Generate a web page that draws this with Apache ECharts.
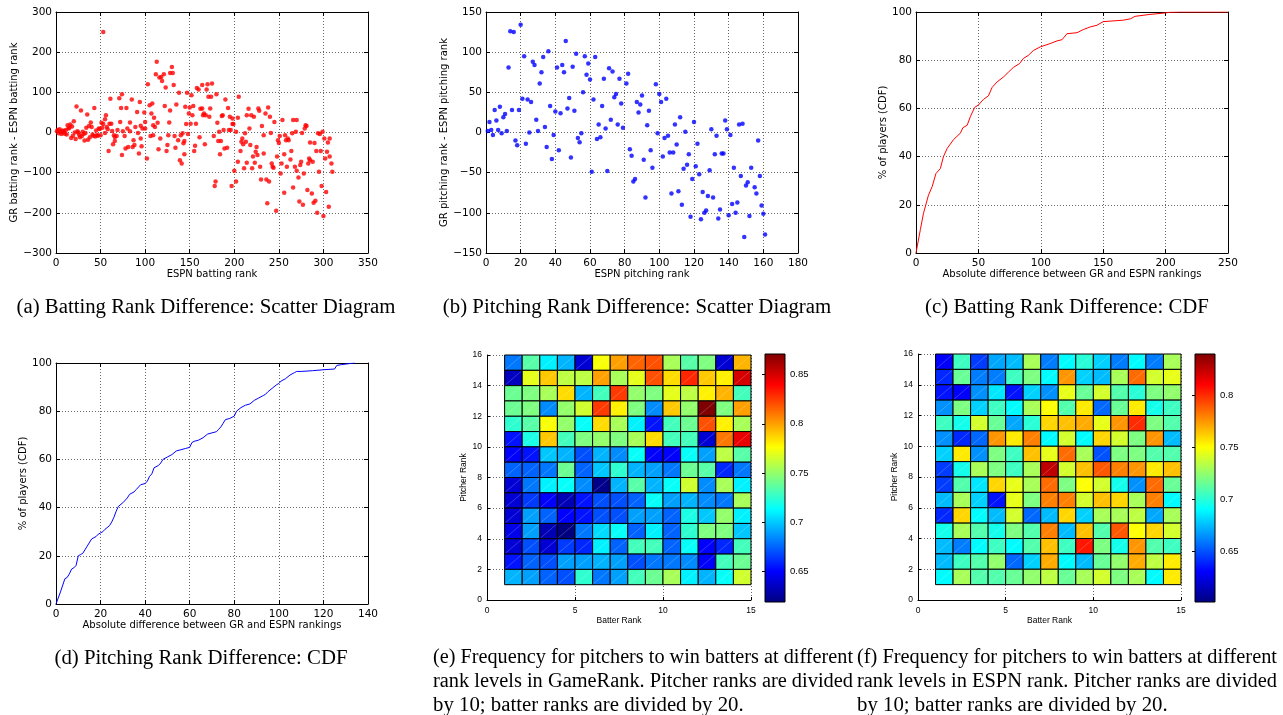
<!DOCTYPE html>
<html>
<head>
<meta charset="utf-8">
<script src="https://cdn.jsdelivr.net/npm/echarts@6/dist/echarts.min.js"></script>
<style>
html, body { margin: 0; padding: 0; background: #fff; }
#chart { width: 1283px; height: 715px; }
</style>
</head>
<body>
<div id="chart"></div>
<script>
// (a) ESPN batting rank vs. (GR rank - ESPN rank)
const battingDiff = [
    [1,3],[2,6],[3,-2],[4,8],[5,2],[6,-4],[7,5],[8,0],[9,4],[10,-3],[11,6],[12,-5],[13,18],[14,10],[15,12],
    [16,20],[17,-14],[18,15],[19,-8],[20,28],[21,0],[22,-16],[23,65],[24,3],[25,0],[26,-6],[27,-12],[28,55],
    [29,-9],[30,2],[31,-4],[32,-20],[33,-1],[34,12],[35,45],[36,-18],[37,16],[38,-12],[39,25],[40,14],[41,-5],
    [42,-8],[43,61],[44,-10],[45,5],[46,-6],[47,-8],[48,10],[49,9],[50,-7],
    [53,250],[51,24],[52,12],[53,21],[55,33],[55,-1],[56,43],[57,14],[58,8],[59,-46],[60,22],[61,84],[62,22],
    [63,4],[64,-29],[65,-7],[66,-21],[66,-11],[68,-9],[69,6],[71,85],[72,26],[73,61],[74,95],[74,-56],[75,3],
    [77,-9],[78,-40],[79,61],[80,10],[81,-36],[83,3],[83,25],[85,82],[86,-36],[87,-19],[88,-31],[89,14],[91,51],
    [92,-1],[93,-52],[94,76],[95,-15],[95,17],[96,-34],[97,10],[99,50],[100,10],
    [100,26],[102,-65],[103,120],[105,68],[106,-9],[107,47],[108,72],[109,-7],[109,18],[110,37],[111,14],[112,145],
    [113,176],[114,24],[115,-42],[116,137],[117,-15],[118,138],[119,128],[121,145],[122,66],[123,112],[124,-46],
    [125,-31],[126,-7],[127,25],[128,55],[128,148],[130,163],[131,148],[132,118],[133,-9],[134,-38],[135,70],
    [137,-19],[138,99],[139,-69],[140,-7],[141,-77],[142,-2],[143,-27],[144,-21],[144,-54],[145,64],[146,21],
    [147,99],[148,-4],[149,47],[150,62],
    [151,22],[152,93],[153,43],[154,66],[155,-46],[156,-33],[157,22],[158,111],[160,107],[161,-12],[162,59],
    [164,118],[164,60],[165,43],[166,47],[167,-29],[168,43],[169,107],[170,120],[171,89],[172,39],[173,60],
    [174,89],[175,122],[177,-9],[178,-133],[179,-122],[180,95],[181,24],[182,-21],[183,2],[184,-54],[185,-21],
    [186,41],[187,43],[188,6],[189,-40],[190,82],[192,-38],[193,61],[194,6],[195,39],[196,6],[197,-133],
    [198,21],[198,35],[199,21],
    [200,-95],[202,-122],[202,2],[204,-73],[204,37],[205,89],[207,-46],[208,-23],[209,-15],[210,-29],[211,-89],
    [212,-2],[213,-23],[214,43],[214,-75],[216,59],[217,10],[218,-31],[219,43],[220,-89],[221,-60],[222,39],
    [223,-75],[224,-48],[225,-36],[226,-56],[227,60],[228,54],[229,-85],[230,-117],[231,16],[233,-7],[233,-52],
    [235,47],[236,-117],[237,-176],[238,62],[239,-122],[240,39],[241,-1],[242,-77],[243,-85],[244,-88],[245,26],
    [247,-195],[248,-60],[249,-19],[250,-26],
    [251,-9],[252,-102],[253,-77],[254,31],[256,-54],[256,-150],[257,-7],[258,-19],[259,-85],[260,-15],[261,-19],
    [263,-67],[264,-46],[265,-2],[266,31],[266,-137],[268,-85],[269,2],[270,-95],[270,31],[272,-112],[273,-172],
    [274,-81],[275,-73],[276,-1],[277,-180],[278,-102],[279,10],[280,18],[281,16],[282,-143],[283,-77],[284,-65],
    [285,-25],[285,-69],[287,-152],[288,-73],[289,-175],[290,-26],[291,-170],[292,-46],[293,-200],[294,-2],
    [295,-98],[296,-4],[297,-46],[298,-133],[299,2],[300,-208],[301,-15],[302,-65],[303,-148],[304,-48],
    [305,-25],[306,-185],[307,-15],[307,-60],[309,-77],[310,-98]
];

// (b) ESPN pitching rank vs. (GR rank - ESPN rank)
const pitchingDiff = [
    [1,2],[2,13],[3,3],[4,-3],[5,28],[6,15],[7,3],[8,32],[9,-1],[10,19],[11,23],[12,2],[13,81],[14,126],[15,28],
    [16,125],[17,-10],[18,-16],[19,28],[20,134],[21,42],[22,95],[23,-14],[24,41],[25,0],[26,38],[27,88],[28,84],
    [29,16],[30,2],[31,61],[32,75],[33,94],[34,7],[35,-18],[36,101],[37,33],[38,-33],[39,-3],[40,26],[41,81],
    [42,-22],[43,24],[44,84],[45,75],[46,114],[47,30],[48,43],[49,-31],[50,82],[51,27],[52,98],[53,-7],[54,-12],
    [55,-1],[56,50],[57,95],[58,72],[59,86],[60,66],[61,-49],[62,41],[63,94],[64,-8],[65,10],[66,-6],[67,33],
    [68,67],[69,5],[70,-48],[71,80],[72,16],[73,76],[74,44],[75,48],[76,10],[77,67],[78,36],[79,6],[81,61],
    [82,73],[83,-21],[84,-29],[85,-61],[86,-58],[87,38],[88,25],[89,35],[90,46],[91,-34],[92,-81],[93,9],
    [94,27],[95,-22],[96,-44],[98,60],[99,-1],[100,48],[101,38],[102,-30],[103,-7],[104,42],[105,-4],[106,-25],
    [107,-76],[108,-25],[109,10],[110,-15],[111,-73],[112,19],[113,-90],[114,-45],[115,1],[116,-40],[117,-27],
    [118,-105],[119,-58],[120,13],[121,-42],[122,-14],[123,-52],[124,-108],[125,-74],[126,-100],[127,-97],
    [128,-79],[129,-47],[130,4],[131,-81],[132,-27],[133,-4],[134,-107],[135,-96],[136,-26],[137,-26],[138,15],
    [139,4],[140,-103],[141,-3],[142,-89],[143,-44],[144,-100],[145,-87],[146,10],[147,-54],[148,11],[149,-130],
    [150,-66],[151,-62],[152,-104],[153,-44],[155,-68],[156,-76],[157,-10],[158,-54],[159,-91],[160,-101],[161,-127]
];

// (c) CDF of |GR - ESPN| for batters
const battingCdf = [
    [0,0],[0.5,1.4],[3.5,9.7],[6,16.5],[10,24],[13,27.6],[16,33],[19.5,35],[22,40],[25,43.4],[30,47],[35.5,49.7],
    [37.6,52],[41,53],[43.5,56.5],[47,60.4],[50,61.4],[54,63.7],[58,65.2],[61,68.7],[65,71],[70,73],[74,75],
    [78,77],[83,78.6],[86,80.7],[90,82],[94,84],[99.5,85.5],[107.5,86.9],[113,88],[117,88.5],[121,91],[129,91.4],
    [134,92.7],[139.5,93.8],[145,94.5],[150,96],[166,96.6],[172,97.2],[175.5,98.2],[187.5,99],[199.5,99.6],
    [203.5,99.9],[211,100],[250,100]
];

// (d) CDF of |GR - ESPN| for pitchers
const pitchingCdf = [
    [0,0],[2,5],[4,10.5],[5,11],[6,12.5],[7,14.5],[8,15],[9,16],[10,20],[11,20.5],[12,21],[14,24],[16,27],
    [17,27.5],[18,28],[19,29],[20,29.5],[21,30],[22,31],[24,32.5],[25,34],[26,36],[27,38.5],[28,40.5],[30,42],
    [32,44],[33,45.5],[35,46.5],[36,47.5],[38,49.5],[40,50],[41,51],[42,53],[43,54],[44,56.5],[46,57.5],
    [47,58.5],[48,60],[50,61],[52,62],[54,63.5],[56,64],[58,64.5],[60,65],[61,67],[62,67.5],[64,68],[66,69],
    [68,70.5],[70,71],[72,71.5],[73,72.5],[74,73.5],[75,75],[76,76.5],[78,77],[80,78],[81,80],[83,81.5],
    [85,82.5],[87,83],[89,84.5],[91,85.5],[93,86.5],[94,87],[95,88],[97,89.5],[99,91],[100,91.5],[101,92.5],
    [103,93.5],[105,95],[107,96],[108,96.5],[110,96.5],[115,96.8],[120,97.2],[125,97.5],[126,99],[128,99.3],
    [132,99.8],[134,100]
];

// (e) win frequency, GameRank levels; rows = pitcher rank 15 (top) .. 1 (bottom), cols = batter rank 1..14
const gameRankRows = [
    [0.68,0.735,0.71,0.695,0.64,0.775,0.80,0.815,0.82,0.755,0.735,0.745,0.64,0.795],
    [0.635,0.77,0.79,0.76,0.76,0.80,0.755,0.77,0.82,0.785,0.83,0.79,0.78,0.85],
    [0.74,0.745,0.755,0.785,0.695,0.73,0.825,0.75,0.745,0.77,0.76,0.78,0.795,0.73],
    [0.74,0.745,0.685,0.75,0.765,0.825,0.78,0.745,0.685,0.79,0.75,0.871,0.745,0.80],
    [0.725,0.735,0.775,0.75,0.715,0.785,0.755,0.71,0.655,0.73,0.74,0.82,0.78,0.755],
    [0.655,0.72,0.79,0.73,0.745,0.75,0.745,0.755,0.785,0.73,0.73,0.64,0.81,0.845],
    [0.65,0.655,0.70,0.695,0.67,0.695,0.685,0.715,0.65,0.65,0.715,0.69,0.76,0.735],
    [0.675,0.675,0.68,0.74,0.675,0.70,0.725,0.695,0.69,0.68,0.74,0.735,0.66,0.68],
    [0.64,0.68,0.71,0.715,0.685,0.622,0.695,0.735,0.695,0.715,0.765,0.685,0.755,0.71],
    [0.64,0.665,0.65,0.632,0.655,0.67,0.67,0.675,0.715,0.69,0.695,0.685,0.68,0.755],
    [0.64,0.69,0.675,0.65,0.655,0.67,0.67,0.69,0.69,0.675,0.72,0.70,0.75,0.71],
    [0.645,0.69,0.632,0.619,0.68,0.705,0.715,0.675,0.71,0.675,0.725,0.745,0.745,0.70],
    [0.64,0.67,0.64,0.665,0.66,0.71,0.675,0.73,0.73,0.675,0.715,0.65,0.66,0.73],
    [0.655,0.675,0.67,0.69,0.69,0.695,0.69,0.67,0.68,0.68,0.685,0.65,0.73,0.74],
    [0.695,0.69,0.675,0.67,0.725,0.68,0.69,0.73,0.74,0.755,0.71,0.695,0.715,0.765]
];
const gameRankRange = [0.619, 0.871];
const gameRankTicks = [0.65, 0.7, 0.75, 0.8, 0.85];

// (f) win frequency, ESPN levels
const espnRows = [
    [0.63,0.705,0.645,0.67,0.675,0.73,0.66,0.69,0.70,0.68,0.66,0.69,0.66,0.73],
    [0.64,0.715,0.66,0.66,0.705,0.72,0.69,0.775,0.68,0.675,0.73,0.785,0.74,0.745],
    [0.635,0.63,0.665,0.685,0.635,0.68,0.665,0.745,0.715,0.74,0.71,0.70,0.72,0.725],
    [0.665,0.72,0.68,0.705,0.69,0.73,0.75,0.71,0.755,0.655,0.715,0.755,0.695,0.705],
    [0.705,0.695,0.74,0.715,0.67,0.70,0.76,0.765,0.77,0.745,0.775,0.80,0.72,0.71],
    [0.665,0.64,0.655,0.775,0.755,0.78,0.69,0.74,0.69,0.76,0.74,0.72,0.775,0.675],
    [0.68,0.755,0.665,0.72,0.705,0.765,0.745,0.785,0.73,0.65,0.72,0.72,0.71,0.71],
    [0.645,0.695,0.73,0.72,0.705,0.73,0.825,0.74,0.765,0.79,0.78,0.775,0.755,0.765],
    [0.645,0.71,0.685,0.76,0.745,0.73,0.785,0.72,0.75,0.74,0.695,0.665,0.785,0.715],
    [0.675,0.73,0.68,0.635,0.745,0.72,0.78,0.78,0.74,0.765,0.76,0.73,0.78,0.69],
    [0.64,0.76,0.69,0.675,0.74,0.655,0.675,0.76,0.68,0.73,0.73,0.735,0.67,0.73],
    [0.695,0.73,0.71,0.695,0.72,0.71,0.78,0.675,0.765,0.71,0.79,0.75,0.76,0.74],
    [0.675,0.66,0.69,0.705,0.69,0.71,0.765,0.705,0.805,0.72,0.695,0.775,0.71,0.705],
    [0.675,0.705,0.71,0.725,0.655,0.68,0.77,0.69,0.675,0.715,0.725,0.77,0.735,0.755],
    [0.69,0.73,0.71,0.71,0.715,0.725,0.735,0.715,0.73,0.74,0.72,0.73,0.69,0.755]
];
const espnRange = [0.601, 0.84];
const espnTicks = [0.65, 0.7, 0.75, 0.8];

const captions = [
    '(a) Batting Rank Difference: Scatter Diagram',
    '(b) Pitching Rank Difference: Scatter Diagram',
    '(c) Batting Rank Difference: CDF',
    '(d) Pitching Rank Difference: CDF',
    '(e) Frequency for pitchers to win batters at different\nrank levels in GameRank. Pitcher ranks are divided\nby 10; batter ranks are divided by 20.',
    '(f) Frequency for pitchers to win batters at different\nrank levels in ESPN rank. Pitcher ranks are divided\nby 10; batter ranks are divided by 20.'
];

// matlab jet
const jet = ['#00007f', '#0000ff', '#007fff', '#00ffff', '#7fff7f', '#ffff00', '#ff7f00', '#ff0000', '#7f0000'];

const chart = echarts.init(document.getElementById('chart'));

const grids = [], xAxes = [], yAxes = [], series = [], visualMaps = [];
const mplFont = 'DejaVu Sans';
const matFont = 'Liberation Sans';
const minus = v => String(v).replace('-', '\u2212');

function boxPanel(box, xr, yr, xName, yName, yGap) {
    const g = grids.length;
    grids.push(box);
    const split = { show: true, lineStyle: { color: '#444', type: [1, 2], width: 0.8 } };
    const line = { show: true, onZero: false, lineStyle: { color: '#000', width: 1 } };
    const tick = { show: true, inside: true, length: 4, lineStyle: { color: '#000' } };
    const nameStyle = { fontFamily: mplFont, fontSize: 10, color: '#000' };
    const lab = { fontFamily: mplFont, fontSize: 10.5, color: '#000', formatter: minus };
    xAxes.push({
        type: 'value', gridIndex: g, min: xr[0], max: xr[1], interval: xr[2], position: 'bottom',
        axisLine: line, axisTick: tick, splitLine: split, axisLabel: Object.assign({ margin: 5 }, lab),
        name: xName, nameLocation: 'middle', nameGap: 14, nameTextStyle: nameStyle
    });
    xAxes.push({
        type: 'value', gridIndex: g, min: xr[0], max: xr[1], interval: xr[2], position: 'top',
        axisLine: line, axisTick: tick, splitLine: { show: false }, axisLabel: { show: false }
    });
    yAxes.push({
        type: 'value', gridIndex: g, min: yr[0], max: yr[1], interval: yr[2], position: 'left',
        axisLine: line, axisTick: tick, splitLine: split, axisLabel: Object.assign({ margin: 4 }, lab),
        name: yName, nameLocation: 'middle', nameRotate: 90, nameGap: yGap, nameTextStyle: nameStyle
    });
    yAxes.push({
        type: 'value', gridIndex: g, min: yr[0], max: yr[1], interval: yr[2], position: 'right',
        axisLine: line, axisTick: tick, splitLine: { show: false }, axisLabel: { show: false }
    });
    return { x: xAxes.length - 2, y: yAxes.length - 2 };
}

function heatPanel(box, cbBox, rows, range, ticks) {
    const g = grids.length;
    grids.push(box);
    const dotted = { show: true, lineStyle: { color: '#444', type: [1, 2], width: 0.8 } };
    const nameStyle = { fontFamily: matFont, fontSize: 8.5, color: '#000' };
    const lab = { fontFamily: matFont, fontSize: 8.5, color: '#000' };
    xAxes.push({
        type: 'value', gridIndex: g, min: 0, max: 15, interval: 5,
        axisLine: { onZero: false, lineStyle: { color: '#000' } },
        axisTick: { inside: true, length: 3, lineStyle: { color: '#000' } },
        splitLine: dotted, axisLabel: Object.assign({ margin: 6 }, lab),
        name: 'Batter Rank', nameLocation: 'middle', nameGap: 16, nameTextStyle: nameStyle
    });
    yAxes.push({
        type: 'value', gridIndex: g, min: 0, max: 16, interval: 2,
        axisLine: { onZero: false, lineStyle: { color: '#000' } },
        axisTick: { inside: true, length: 3, lineStyle: { color: '#000' } },
        splitLine: dotted, axisLabel: Object.assign({ margin: 5 }, lab),
        name: 'Pitcher Rank', nameLocation: 'middle', nameRotate: 90, nameGap: 19, nameTextStyle: nameStyle
    });
    const cells = [];
    rows.forEach((row, i) => row.forEach((v, j) => cells.push([j + 1, rows.length - i, v])));
    visualMaps.push({
        type: 'continuous', show: false, seriesIndex: series.length, dimension: 2,
        min: range[0], max: range[1], inRange: { color: jet }
    });
    series.push({
        type: 'custom', xAxisIndex: xAxes.length - 1, yAxisIndex: yAxes.length - 1, data: cells,
        renderItem(params, api) {
            const p0 = api.coord([api.value(0), api.value(1) + 1]);
            const p1 = api.coord([api.value(0) + 1, api.value(1)]);
            return {
                type: 'group', children: [
                    { type: 'rect', shape: { x: p0[0], y: p0[1], width: p1[0] - p0[0], height: p1[1] - p0[1] },
                      style: { fill: api.visual('color'), stroke: '#000', lineWidth: 1 } },
                    { type: 'line', shape: { x1: p0[0] + 1, y1: p1[1] - 1, x2: p1[0] - 1, y2: p0[1] + 1 },
                      style: { stroke: 'rgba(255,255,255,0.35)', lineWidth: 0.6 } }
                ]
            };
        }
    });

    // colorbar
    const c = grids.length;
    grids.push(cbBox);
    xAxes.push({ type: 'value', gridIndex: c, min: 0, max: 1, show: false });
    yAxes.push({
        type: 'value', gridIndex: c, min: range[0], max: range[1], position: 'right',
        axisLine: { show: false }, splitLine: { show: false },
        axisTick: { show: true, inside: true, length: 3, customValues: ticks, lineStyle: { color: '#000' } },
        axisLabel: { customValues: ticks, fontFamily: matFont, fontSize: 9.5, color: '#000', margin: 5 }
    });
    yAxes.push({
        type: 'value', gridIndex: c, min: range[0], max: range[1], position: 'left',
        axisLine: { show: false }, splitLine: { show: false }, axisLabel: { show: false },
        axisTick: { show: true, inside: true, length: 3, customValues: ticks, lineStyle: { color: '#000' } }
    });
    series.push({
        type: 'custom', xAxisIndex: xAxes.length - 1, yAxisIndex: yAxes.length - 2,
        data: [[0, range[0], 1, range[1]]],
        renderItem(params, api) {
            const a = api.coord([api.value(0), api.value(3)]);
            const b = api.coord([api.value(2), api.value(1)]);
            return {
                type: 'rect', z2: -1,
                shape: { x: a[0], y: a[1], width: b[0] - a[0], height: b[1] - a[1] },
                style: {
                    fill: new echarts.graphic.LinearGradient(0, 1, 0, 0,
                        jet.map((col, k) => ({ offset: k / (jet.length - 1), color: col }))),
                    stroke: '#000', lineWidth: 1
                }
            };
        }
    });
}

const pa = boxPanel({ left: 56, top: 12, width: 312, height: 241 }, [0, 350, 50], [-300, 300, 100],
    'ESPN batting rank', 'GR batting rank - ESPN batting rank', 31);
series.push({ type: 'scatter', xAxisIndex: pa.x, yAxisIndex: pa.y, data: battingDiff,
    symbolSize: 4.5, itemStyle: { color: '#ff0000' } });

const pb = boxPanel({ left: 486, top: 12, width: 312, height: 241 }, [0, 180, 20], [-150, 150, 50],
    'ESPN pitching rank', 'GR pitching rank - ESPN pitching rank', 34);
series.push({ type: 'scatter', xAxisIndex: pb.x, yAxisIndex: pb.y, data: pitchingDiff,
    symbolSize: 4.5, itemStyle: { color: '#0000ff' } });

const pc = boxPanel({ left: 916, top: 12, width: 312, height: 241 }, [0, 250, 50], [0, 100, 20],
    'Absolute difference between GR and ESPN rankings', '% of players (CDF)', 26);
series.push({ type: 'line', xAxisIndex: pc.x, yAxisIndex: pc.y, data: battingCdf, showSymbol: false,
    lineStyle: { color: '#ff0000', width: 1 }, itemStyle: { color: '#ff0000' } });

const pd = boxPanel({ left: 56, top: 363, width: 312, height: 241 }, [0, 140, 20], [0, 100, 20],
    'Absolute difference between GR and ESPN rankings', '% of players (CDF)', 26);
series.push({ type: 'line', xAxisIndex: pd.x, yAxisIndex: pd.y, data: pitchingCdf, showSymbol: false,
    lineStyle: { color: '#0000ff', width: 1 }, itemStyle: { color: '#0000ff' } });

heatPanel({ left: 487, top: 355, width: 264, height: 245 }, { left: 765, top: 354, width: 20, height: 248 },
    gameRankRows, gameRankRange, gameRankTicks);
heatPanel({ left: 918, top: 354, width: 263, height: 246 }, { left: 1195, top: 354, width: 20, height: 248 },
    espnRows, espnRange, espnTicks);

// captions: [x, y of first line, align, justified width of wrapped lines]
const capFont = '20.8px "Liberation Serif"';
const capPos = [[206, 308, 'center', 0], [637, 308, 'center', 0], [1067, 308, 'center', 0],
    [201, 659, 'center', 0], [433, 658, 'left', 420], [857, 658, 'left', 420]];
const measure = document.createElement('canvas').getContext('2d');
measure.font = capFont;
const capText = [];
captions.forEach((t, i) => {
    const lines = t.split('\n');
    lines.forEach((ln, k) => {
        const [x, y, align, just] = capPos[i];
        const w = measure.measureText(ln).width;
        const sx = (just && k < lines.length - 1) ? just / w : 1;
        capText.push({
            type: 'text', x: x, y: y + k * 24, scaleX: sx,
            style: { text: ln, font: capFont, fill: '#000', align: align, verticalAlign: 'middle' }
        });
    });
});

chart.setOption({
    animation: false,
    backgroundColor: '#fff',
    grid: grids,
    xAxis: xAxes,
    yAxis: yAxes,
    visualMap: visualMaps,
    series: series,
    graphic: capText
});
</script>
</body>
</html>
